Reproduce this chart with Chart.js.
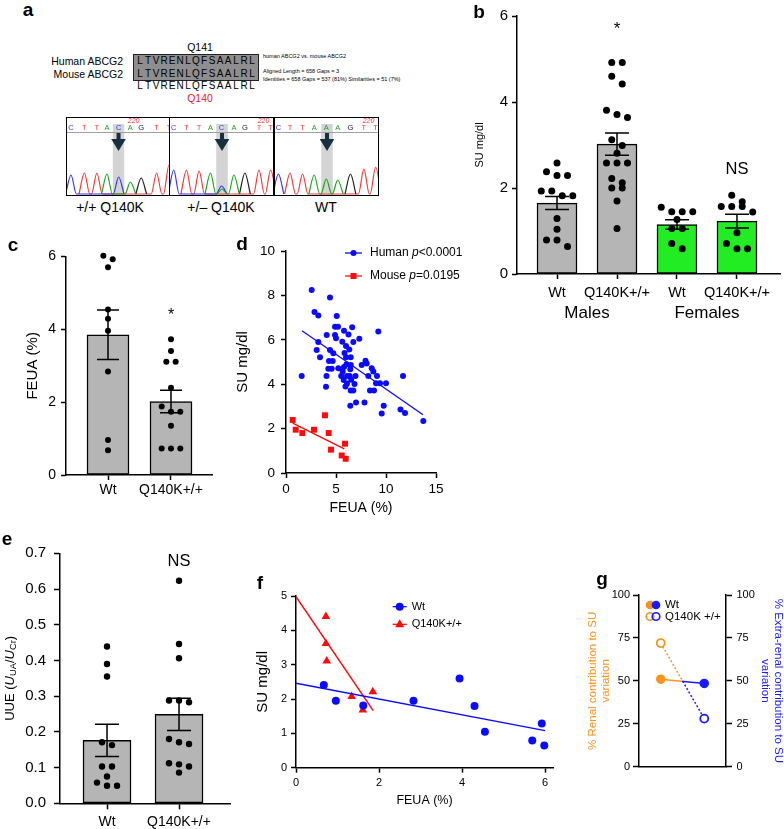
<!DOCTYPE html>
<html>
<head>
<meta charset="utf-8">
<script src="https://cdn.jsdelivr.net/npm/chart.js@4.4.1/dist/chart.umd.min.js"></script>
<style>
  html, body { margin: 0; padding: 0; background: #fff; }
  body { position: relative; width: 784px; height: 829px; overflow: hidden; font-family: "Liberation Sans", Arial, Helvetica, sans-serif; color: #000; }
  canvas { position: absolute; }
  .t { position: absolute; white-space: nowrap; line-height: 1; }
  .c { transform: translate(-50%, -50%); }
  .r { transform: translate(-100%, -50%); }
  .l { transform: translate(0, -50%); }
  .lbl { font-weight: bold; font-size: 19px; }
  .seq { position: absolute; display: flex; width: 120px; font-size: 10px; line-height: 1; transform: translateY(-50%); }
  .seq span { flex: 1; text-align: center; }
</style>
</head>
<body>
<!-- panel a : alignment -->
<div class="t c" style="left:200px;top:47px;font-size:10.5px">Q141</div>
<div class="t r" style="left:123px;top:61px;font-size:10.5px">Human ABCG2</div>
<div class="t r" style="left:123px;top:73.5px;font-size:10.5px">Mouse ABCG2</div>
<div style="position:absolute;left:133px;top:54px;width:126px;height:27px;box-sizing:border-box;background:#8e8e8e;border:1.5px solid #222"></div>
<div class="seq" id="seq1" style="left:136px;top:61px"></div>
<div class="seq" id="seq2" style="left:136px;top:73.5px"></div>
<div class="seq" id="seq3" style="left:136px;top:86px"></div>
<div class="t c" style="left:200px;top:98px;font-size:10.5px;color:#ee1c24">Q140</div>
<div class="t l" style="left:263px;top:57px;font-size:5.5px">human ABCG2 vs. mouse ABCG2</div>
<div class="t l" style="left:263px;top:72px;font-size:5.5px">Aligned Length = 658 Gaps = 3</div>
<div class="t l" style="left:263px;top:80px;font-size:5.5px">Identities = 658 Gaps = 537 (81%) Similarities = 51 (7%)</div>
<div class="t c" style="left:110px;top:207px;font-size:14px">+/+ Q140K</div>
<div class="t c" style="left:221px;top:207px;font-size:14px">+/– Q140K</div>
<div class="t c" style="left:326px;top:207px;font-size:14px">WT</div>

<canvas id="chr1" width="104" height="79" style="left:66px;top:117px"></canvas>
<canvas id="chr2" width="105" height="79" style="left:169px;top:117px"></canvas>
<canvas id="chr3" width="105" height="79" style="left:274px;top:117px"></canvas>

<canvas id="pb" width="344" height="330" style="left:440px;top:0"></canvas>
<canvas id="pc" width="225" height="275" style="left:0;top:240px"></canvas>
<canvas id="pd" width="240" height="290" style="left:228px;top:235px"></canvas>
<canvas id="pe" width="240" height="294" style="left:0;top:535px"></canvas>
<canvas id="pf" width="325" height="240" style="left:240px;top:580px"></canvas>
<canvas id="pg" width="204" height="200" style="left:580px;top:580px"></canvas>

<div class="t c lbl" style="left:28px;top:9px">a</div>
<div class="t c lbl" style="left:479px;top:11px">b</div>
<div class="t c lbl" style="left:13px;top:244px">c</div>
<div class="t c lbl" style="left:242px;top:243px">d</div>
<div class="t c lbl" style="left:7px;top:538px">e</div>
<div class="t c lbl" style="left:260px;top:582px">f</div>
<div class="t c lbl" style="left:602px;top:578px">g</div>

<script>
// ---------- data ----------
// a: alignment + chromatograms
const alignSeq = 'LTVRENLQFSAALRL';
const seqCalls = ['CTTACAGTT', 'CTTACAGTT', 'CTTAAAGTT'];
const peakPos = [
  [4.8, 17.7, 29.7, 39.4, 50.6, 61.9, 72.3, 87.1, 99.0],
  [4.5, 16.6, 28.7, 39.5, 50.0, 61.8, 72.3, 85.7, 96.8],
  [4.2, 15.3, 27.2, 38.3, 49.8, 60.7, 72.8, 85.6, 96.8]
];
const peakHeight = [
  [19, 21, 21, 20, 17, 12, 16, 21, 29],
  [24, 24, 23, 21, 8, 19, 21, 24, 24],
  [20, 21, 20, 19, 15, 14, 20, 25, 27]
];
const minorPeaks = [[], [['A', 50.5, 5]], []];
const numLabelPos = [65, 90, 90];
const hlBand = [45, 56];

// b: serum urate by sex
const bLabels = ['Wt', 'Q140K+/+', 'Wt', 'Q140K+/+'];
const bSexes = ['Males', 'Females'];
const bMaleWt = [2.58, 2.38, 2.29, 2.29, 1.93, 1.93, 1.82, 1.82, 1.29, 1.04, 0.79, 0.79, 0.64];
const bMaleQ = [4.92, 4.92, 4.60, 4.42, 3.81, 3.71, 3.64, 3.12, 2.99, 2.81, 2.58, 2.58, 2.58, 2.22, 2.12, 2.00, 2.00, 1.70, 1.06];
const bFemWt = [1.55, 1.45, 1.45, 1.45, 1.27, 1.06, 1.06, 0.71, 0.59];
const bFemQ = [1.83, 1.68, 1.57, 1.57, 1.57, 1.44, 0.96, 0.71, 0.59, 0.59];
const bMeans = [1.65, 3.02, 1.15, 1.23];
const bSem = [0.15, 0.26, 0.11, 0.16];
const bTicks = [0, 2, 4, 6];

// c: FEUA
const cLabels = ['Wt', 'Q140K+/+'];
const cWt = [6.02, 5.93, 5.71, 4.55, 4.29, 3.96, 2.84, 0.96, 0.68];
const cQ = [3.73, 3.41, 3.11, 3.11, 2.40, 1.88, 1.74, 1.74, 1.35, 0.73, 0.73, 0.73];
const cMeans = [3.85, 2.02];
const cSem = [0.68, 0.31];
const cTicks = [0, 2, 4, 6];

// d: SU vs FEUA, human and mouse
const dSeries = ['Human', 'Mouse'];
const dPvals = ['<0.0001', '=0.0195'];
const dHumanX = [2.57, 4.40, 2.85, 3.23, 5.07, 1.57, 4.07, 3.23, 3.07, 3.40, 4.90, 5.20, 4.90, 5.00, 5.80, 6.25, 6.62, 6.73, 7.33, 5.63,
  6.00, 6.33, 5.85, 4.40, 4.73, 6.47, 6.00, 4.30, 4.67, 4.23, 4.57, 5.23, 4.05, 4.00, 5.52, 5.67, 5.80, 6.05, 6.10, 5.77,
  6.10, 6.48, 6.43, 6.37, 6.52, 6.95, 6.85, 5.95, 6.47, 6.73, 6.43, 7.00, 7.85, 7.57, 7.95, 8.07, 8.23, 8.57, 8.73, 9.10,
  9.00, 8.40, 8.80, 9.40, 10.0, 9.23, 9.57, 9.77, 11.45, 11.70, 11.90, 13.73];
const dHumanY = [8.24, 7.91, 7.25, 7.09, 7.07, 4.37, 6.22, 5.90, 5.54, 5.21, 6.59, 6.59, 6.22, 6.07, 6.41, 6.24, 6.56, 5.90, 6.05, 5.91,
  5.72, 5.56, 5.41, 5.54, 5.39, 5.21, 5.21, 5.04, 5.04, 4.70, 4.70, 4.72, 4.37, 3.88, 4.37, 4.57, 4.78, 4.90, 4.37, 4.19,
  4.03, 4.87, 4.67, 4.37, 4.20, 4.37, 4.01, 3.90, 3.72, 3.72, 3.03, 3.18, 3.18, 4.87, 5.06, 4.93, 4.37, 4.72, 4.57, 4.37,
  4.04, 3.72, 3.72, 4.04, 4.04, 6.37, 2.68, 3.03, 2.86, 4.37, 2.70, 2.34];
const dMouseX = [0.67, 0.97, 1.63, 2.80, 3.90, 4.27, 4.50, 5.57, 5.90, 5.97];
const dMouseY = [2.39, 1.95, 1.80, 1.95, 2.60, 1.80, 1.05, 0.79, 1.32, 0.64];
const dHumanFitX = [1.6, 13.7], dHumanFitY = [6.41, 2.62];
const dMouseFitX = [0.67, 5.83], dMouseFitY = [2.25, 1.09];
const dTicksX = [0, 5, 10, 15];
const dTicksY = [0, 2, 4, 6, 8, 10];

// e: urinary urate excretion
const eLabels = ['Wt', 'Q140K+/+'];
const eWt = [0.439, 0.390, 0.355, 0.171, 0.163, 0.103, 0.103, 0.075, 0.058, 0.049, 0.049];
const eQ = [0.623, 0.446, 0.406, 0.288, 0.288, 0.283, 0.180, 0.171, 0.166, 0.112, 0.109, 0.103, 0.086];
const eMeans = [0.176, 0.249];
const eSem = [0.045, 0.045];
const eTicks = [0, 0.1, 0.2, 0.3, 0.4, 0.5, 0.6, 0.7];

// f: SU vs FEUA in mice
const fSeries = ['Wt', 'Q140K+/+'];
const fWtX = [0.67, 0.96, 1.62, 2.83, 3.94, 4.30, 4.55, 5.69, 5.92, 5.98];
const fWtY = [2.41, 1.95, 1.81, 1.95, 2.60, 1.80, 1.05, 0.79, 1.29, 0.65];
const fQX = [0.72, 0.72, 0.74, 1.34, 1.61, 1.85];
const fQY = [4.40, 3.62, 3.11, 2.07, 1.68, 2.21];
const fWtFitX = [0, 6.0], fWtFitY = [2.46, 1.08];
const fQFitX = [0, 1.86], fQFitY = [4.98, 1.66];
const fTicksX = [0, 2, 4, 6];
const fTicksY = [0, 1, 2, 3, 4, 5];

// g: renal vs extra-renal contribution
const gCats = ['Renal', 'Extra-renal'];
const gSeries = ['Wt', 'Q140K +/+'];
const gWt = [51, 48.5];
const gQ = [72, 28];
const gTicks = [0, 25, 50, 75, 100];

// ---------- setup ----------
const FONT = '"Liberation Sans", Arial, Helvetica, sans-serif';
Chart.defaults.font.family = FONT;
Chart.defaults.color = '#000';
Chart.defaults.animation = false;
Chart.defaults.responsive = false;
Chart.defaults.events = [];
Chart.defaults.plugins.legend.display = false;
Chart.defaults.plugins.tooltip.enabled = false;

const BLUE = '#0a0aff', RED = '#ff0a0a', ORANGE = '#f7931e', GBLUE = '#1a1aff';
const baseColor = { A: '#1aa81a', C: '#3535f5', G: '#202020', T: '#f53a3a' };
const zip = (xs, ys) => xs.map((x, i) => ({ x, y: ys[i] }));

['seq1', 'seq2', 'seq3'].forEach(id => {
  document.getElementById(id).innerHTML = alignSeq.split('').map(ch => '<span>' + ch + '</span>').join('');
});

// simple beeswarm: near-equal values share a row, centred on the category
function swarm(vals, center, step, thr) {
  const rows = [];
  [...vals].sort((a, b) => b - a).forEach(v => {
    const r = rows[rows.length - 1];
    if (r && r[0] - v < thr) r.push(v); else rows.push([v]);
  });
  const out = [];
  rows.forEach(r => r.forEach((v, k) => out.push({ x: center + (k - (r.length - 1) / 2) * step, y: v })));
  return out;
}

function scaleOpts(o) {
  return {
    type: o.type || 'linear',
    position: o.position,
    min: o.min, max: o.max,
    bounds: 'data',
    offset: !!o.offset,
    grid: { display: true, drawOnChartArea: false, drawTicks: !!o.tl, tickLength: o.tl || 0, tickColor: '#000', tickWidth: 1.5, offset: false },
    border: { display: true, color: '#000', width: 1.5 },
    afterFit(s) { if (s.isHorizontal()) s.height = o.size; else s.width = o.size; },
    afterBuildTicks: o.ticks ? (s => { s.ticks = o.ticks.map(v => ({ value: v })); }) : undefined,
    ticks: { display: !!o.fs, font: { size: o.fs || 10 }, padding: o.pad || 0, autoSkip: false, maxRotation: 0, callback: o.cb },
    title: { display: !!o.title, text: o.title || '', color: o.tcolor || '#000', font: { size: o.tfs || 12, lineHeight: o.tlh || 1.2 }, padding: o.tpad || 0 }
  };
}

function marker(ctx, style, x, y, r, fill, stroke) {
  ctx.beginPath();
  if (style === 'rect') ctx.rect(x - r, y - r, 2 * r, 2 * r);
  else if (style === 'triangle') { ctx.moveTo(x, y - r * 1.15); ctx.lineTo(x + r, y + r * 0.65); ctx.lineTo(x - r, y + r * 0.65); ctx.closePath(); }
  else ctx.arc(x, y, r, 0, Math.PI * 2);
  if (fill) { ctx.fillStyle = fill; ctx.fill(); }
  if (stroke) { ctx.strokeStyle = stroke; ctx.lineWidth = 1.6; ctx.stroke(); }
}

function drawParts(ctx, parts, x, y, size) {
  ctx.textAlign = 'left'; ctx.textBaseline = 'middle';
  parts.forEach(p => {
    ctx.font = (p[1] ? 'italic ' : '') + size + 'px ' + FONT;
    ctx.fillText(p[0], x, y);
    x += ctx.measureText(p[0]).width;
  });
}

function errBars(means, sems, cap) {
  return {
    id: 'errBars',
    afterDatasetDraw(chart, args) {
      if (args.meta.type !== 'bar') return;
      const { ctx, scales: { x, y } } = chart;
      ctx.save();
      ctx.strokeStyle = '#000'; ctx.lineWidth = 1.5;
      means.forEach((m, i) => {
        const px = x.getPixelForValue(i), hi = y.getPixelForValue(m + sems[i]), lo = y.getPixelForValue(m - sems[i]);
        ctx.beginPath();
        ctx.moveTo(px, hi); ctx.lineTo(px, lo);
        ctx.moveTo(px - cap / 2, hi); ctx.lineTo(px + cap / 2, hi);
        ctx.moveTo(px - cap / 2, lo); ctx.lineTo(px + cap / 2, lo);
        ctx.stroke();
      });
      ctx.restore();
    }
  };
}

function notes(items) {
  return {
    id: 'notes',
    afterDraw(chart) {
      const { ctx, scales: { x, y } } = chart;
      ctx.save();
      ctx.fillStyle = '#000'; ctx.textAlign = 'center'; ctx.textBaseline = 'middle';
      items.forEach(n => {
        ctx.font = n.size + 'px ' + FONT;
        ctx.fillText(n.text, x.getPixelForValue(n.x), n.py !== undefined ? n.py : y.getPixelForValue(n.y));
      });
      ctx.restore();
    }
  };
}

function lineLegend(rows, geo) {
  return {
    id: 'lineLegend',
    afterDraw(chart) {
      const ctx = chart.ctx;
      ctx.save();
      rows.forEach((r, i) => {
        const y = geo.y0 + i * geo.dy;
        ctx.strokeStyle = r.color; ctx.lineWidth = 1.3;
        ctx.beginPath(); ctx.moveTo(geo.x0, y); ctx.lineTo(geo.x1, y); ctx.stroke();
        marker(ctx, r.style, (geo.x0 + geo.x1) / 2, y, r.r, r.color);
        ctx.fillStyle = '#000';
        drawParts(ctx, r.parts, geo.tx, y, geo.fs);
      });
      ctx.restore();
    }
  };
}

// ---------- a: chromatograms ----------
function chromoDeco(k) {
  return {
    id: 'chromoDeco',
    beforeDatasetsDraw(chart) {
      const { ctx, scales: { x } } = chart;
      const x0 = x.getPixelForValue(hlBand[0]), x1 = x.getPixelForValue(hlBand[1]);
      ctx.save();
      ctx.fillStyle = '#d4d4d4';
      ctx.fillRect(x0, 7, x1 - x0, chart.height - 8);
      ctx.restore();
    },
    afterDraw(chart) {
      const { ctx, scales: { x } } = chart;
      const w = chart.width, h = chart.height;
      ctx.save();
      ctx.strokeStyle = '#a0a0a0'; ctx.lineWidth = 1;
      ctx.beginPath(); ctx.moveTo(0, 15.5); ctx.lineTo(w, 15.5); ctx.stroke();
      ctx.textAlign = 'center'; ctx.textBaseline = 'middle';
      ctx.font = '7.5px ' + FONT;
      seqCalls[k].split('').forEach((b, i) => {
        ctx.fillStyle = baseColor[b];
        ctx.fillText(b, x.getPixelForValue(peakPos[k][i]), 11.3);
      });
      ctx.fillStyle = '#f03030'; ctx.font = 'italic 7px ' + FONT;
      ctx.fillText('220', x.getPixelForValue(numLabelPos[k]), 4.5);
      const c = x.getPixelForValue((hlBand[0] + hlBand[1]) / 2);
      ctx.fillStyle = '#16303f';
      ctx.fillRect(c - 2, 16, 4, 7);
      ctx.beginPath(); ctx.moveTo(c - 7.3, 22); ctx.lineTo(c + 7.3, 22); ctx.lineTo(c, 34); ctx.closePath(); ctx.fill();
      ctx.strokeStyle = '#000'; ctx.lineWidth = 1;
      ctx.strokeRect(0.5, 0.5, w - 1, h - 1);
      ctx.restore();
    }
  };
}

function chromo(id, k) {
  const peaks = seqCalls[k].split('').map((b, i) => [b, peakPos[k][i], peakHeight[k][i]]).concat(minorPeaks[k]);
  const datasets = ['A', 'C', 'G', 'T'].map(b => {
    const pts = [];
    peaks.filter(p => p[0] === b).sort((p, q) => p[1] - q[1]).forEach(p => {
      pts.push({ x: p[1] - 5.2, y: 0 }, { x: p[1], y: p[2] }, { x: p[1] + 5.2, y: 0 });
    });
    return { data: pts, borderColor: baseColor[b], borderWidth: 1.2, pointRadius: 0, cubicInterpolationMode: 'monotone' };
  });
  new Chart(document.getElementById(id), {
    type: 'line',
    data: { datasets },
    options: {
      layout: { padding: { top: 16 } },
      scales: { x: { type: 'linear', display: false, min: 0, max: 100 }, y: { display: false, min: -2, max: 61 } }
    },
    plugins: [chromoDeco(k)]
  });
}
chromo('chr1', 0);
chromo('chr2', 1);
chromo('chr3', 2);

// ---------- bar + dot panels (b, c, e) ----------
function barDot(id, o) {
  const dots = o.groups.flatMap((g, i) => swarm(g, i, o.step, o.thr));
  new Chart(document.getElementById(id), {
    type: 'bar',
    data: {
      datasets: [
        { type: 'scatter', data: dots, pointRadius: o.r, pointBackgroundColor: '#000', pointBorderWidth: 0, order: 0, clip: false },
        { type: 'bar', data: o.means.map((m, i) => ({ x: i, y: m })), backgroundColor: o.fills, borderColor: '#000',
          borderWidth: 1.5, borderSkipped: false, barThickness: o.barW, order: 1 }
      ]
    },
    options: {
      layout: { padding: o.padding },
      scales: { x: scaleOpts(o.x), y: scaleOpts(o.y) }
    },
    plugins: [errBars(o.means, o.sems, o.cap), notes(o.notes)].concat(o.extra || [])
  });
}

barDot('pb', {
  groups: [bMaleWt, bMaleQ, bFemWt, bFemQ], means: bMeans, sems: bSem,
  fills: ['#b5b5b5', '#b5b5b5', '#22ec22', '#22ec22'], barW: 40, cap: 24, r: 3.5, step: 0.175, thr: 0.19,
  padding: { top: 16, right: 4 },
  x: { min: -0.667, max: 3.717, ticks: bLabels.map((_, i) => i), cb: v => bLabels[v], size: 56, tl: 5, pad: 5.3, fs: 14.5 },
  y: { min: 0, max: 6, ticks: bTicks, size: 77, tl: 5, pad: 4, fs: 15, title: 'SU mg/dl', tfs: 11, tpad: 33.4 },
  notes: [
    { x: 1, y: 5.68, text: '*', size: 17 },
    { x: 3, y: 2.42, text: 'NS', size: 16.5 },
    { x: 0.5, py: 313, text: bSexes[0], size: 17 },
    { x: 2.5, py: 313, text: bSexes[1], size: 17 }
  ]
});

barDot('pc', {
  groups: [cWt, cQ], means: cMeans, sems: cSem,
  fills: ['#b5b5b5', '#b5b5b5'], barW: 42, cap: 22, r: 3, step: 0.148, thr: 0.15,
  padding: { top: 16.6, right: 13 },
  x: { min: -0.667, max: 1.651, ticks: [0, 1], cb: v => cLabels[v], size: 40, tl: 5, pad: 1.6, fs: 14 },
  y: { min: 0, max: 6, ticks: cTicks, size: 66, tl: 5, pad: 5, fs: 14, title: 'FEUA (%)', tfs: 15, tpad: 24 },
  notes: [{ x: 1, y: 4.38, text: '*', size: 16 }]
});

const eTitle = {
  id: 'eTitle',
  afterDraw(chart) {
    const { ctx, chartArea: a } = chart;
    const parts = [['UUE (', 0, 0], ['U', 1, 0], ['UA', 0, 1], ['/', 0, 0], ['U', 1, 0], ['Cr', 0, 1], [')', 0, 0]];
    const size = 13;
    const f = p => (p[1] ? 'italic ' : '') + (p[2] ? size * 0.72 : size) + 'px ' + FONT;
    ctx.save();
    ctx.translate(10, (a.top + a.bottom) / 2);
    ctx.rotate(-Math.PI / 2);
    let tw = 0;
    parts.forEach(p => { ctx.font = f(p); tw += ctx.measureText(p[0]).width; });
    let cx = -tw / 2;
    ctx.textBaseline = 'middle'; ctx.textAlign = 'left'; ctx.fillStyle = '#000';
    parts.forEach(p => { ctx.font = f(p); ctx.fillText(p[0], cx, p[2] ? size * 0.3 : 0); cx += ctx.measureText(p[0]).width; });
    ctx.restore();
  }
};

barDot('pe', {
  groups: [eWt, eQ], means: eMeans, sems: eSem,
  fills: ['#b5b5b5', '#b5b5b5'], barW: 48, cap: 24, r: 3.2, step: 0.139, thr: 0.016,
  padding: { top: 18.3, right: 10 },
  x: { min: -0.653, max: 1.708, ticks: [0, 1], cb: v => eLabels[v], size: 25.7, tl: 6, pad: 4.3, fs: 14 },
  y: { min: 0, max: 0.7, ticks: eTicks, cb: v => v.toFixed(1), size: 60, tl: 6, pad: 8, fs: 15 },
  notes: [{ x: 1, y: 0.677, text: 'NS', size: 16.5 }],
  extra: [eTitle]
});

// ---------- d ----------
new Chart(document.getElementById('pd'), {
  type: 'scatter',
  data: {
    datasets: [
      { data: zip(dHumanFitX, dHumanFitY), showLine: true, pointRadius: 0, borderColor: BLUE, borderWidth: 1.3 },
      { data: zip(dMouseFitX, dMouseFitY), showLine: true, pointRadius: 0, borderColor: RED, borderWidth: 1.3 },
      { data: zip(dHumanX, dHumanY), pointRadius: 3, pointBackgroundColor: BLUE, pointBorderWidth: 0 },
      { data: zip(dMouseX, dMouseY), pointStyle: 'rect', pointRadius: 4.2, pointBackgroundColor: RED, pointBorderWidth: 0 }
    ]
  },
  options: {
    layout: { padding: { top: 16, right: 32 } },
    scales: {
      x: scaleOpts({ min: 0, max: 15, ticks: dTicksX, size: 52, tl: 5, pad: 3, fs: 13.5, title: 'FEUA (%)', tfs: 14, tpad: 8.6 }),
      y: scaleOpts({ min: 0, max: 10, ticks: dTicksY, size: 58, tl: 5, pad: 6, fs: 13.5, title: 'SU mg/dl', tfs: 15, tpad: 6.3 })
    }
  },
  plugins: [lineLegend([
    { color: BLUE, style: 'circle', r: 3, parts: [[dSeries[0] + ' ', 0], ['p', 1], [dPvals[0], 0]] },
    { color: RED, style: 'rect', r: 3, parts: [[dSeries[1] + ' ', 0], ['p', 1], [dPvals[1], 0]] }
  ], { y0: 18, dy: 23, x0: 117, x1: 134, tx: 142, fs: 12 })]
});

// ---------- f ----------
new Chart(document.getElementById('pf'), {
  type: 'scatter',
  data: {
    datasets: [
      { data: zip(fWtFitX, fWtFitY), showLine: true, pointRadius: 0, borderColor: BLUE, borderWidth: 1.5 },
      { data: zip(fQFitX, fQFitY), showLine: true, pointRadius: 0, borderColor: RED, borderWidth: 1.5 },
      { data: zip(fWtX, fWtY), pointRadius: 4, pointBackgroundColor: BLUE, pointBorderWidth: 0 },
      { data: zip(fQX, fQY), pointStyle: 'triangle', pointRadius: 5, pointBackgroundColor: RED, pointBorderWidth: 0 }
    ]
  },
  options: {
    layout: { padding: { top: 16, right: 12 } },
    scales: {
      x: scaleOpts({ min: 0, max: 6.19, ticks: fTicksX, size: 52.3, tl: 5, pad: 3.4, fs: 11, title: 'FEUA (%)', tfs: 12.5, tpad: 11.5 }),
      y: scaleOpts({ min: 0, max: 5, ticks: fTicksY, size: 56, tl: 5, pad: 4, fs: 11, title: 'SU mg/dl', tfs: 15, tpad: 14.3 })
    }
  },
  plugins: [lineLegend([
    { color: BLUE, style: 'circle', r: 4, parts: [[fSeries[0], 0]] },
    { color: RED, style: 'triangle', r: 4.5, parts: [[fSeries[1], 0]] }
  ], { y0: 26.7, dy: 17.6, x0: 152.7, x1: 166.7, tx: 171.7, fs: 11 })]
});

// ---------- g ----------
function splitColor(ctx) {
  const c = ctx.chart;
  if (!c.chartArea) return ORANGE;
  const x = c.scales.x;
  const x0 = x.getPixelForValue(0), x1 = x.getPixelForValue(1);
  const g = c.ctx.createLinearGradient(x0, 0, x1, 0);
  g.addColorStop(0, ORANGE); g.addColorStop(0.5, ORANGE);
  g.addColorStop(0.5, GBLUE); g.addColorStop(1, GBLUE);
  return g;
}

const gLegend = {
  id: 'gLegend',
  afterDraw(chart) {
    const ctx = chart.ctx;
    ctx.save();
    marker(ctx, 'circle', 70, 25, 4.3, ORANGE);
    marker(ctx, 'circle', 76, 25, 4.3, GBLUE);
    marker(ctx, 'circle', 70, 36.5, 3.8, null, ORANGE);
    marker(ctx, 'circle', 76, 36.5, 3.8, null, GBLUE);
    ctx.fillStyle = '#000';
    drawParts(ctx, [[gSeries[0], 0]], 85, 25, 11.5);
    drawParts(ctx, [[gSeries[1], 0]], 85, 36.5, 11.5);
    ctx.restore();
  }
};

new Chart(document.getElementById('pg'), {
  type: 'line',
  data: {
    labels: gCats,
    datasets: [
      { data: gWt, borderColor: splitColor, borderWidth: 1.5, pointRadius: 4, pointBackgroundColor: [ORANGE, GBLUE],
        pointBorderColor: [ORANGE, GBLUE], pointBorderWidth: 1.5 },
      { data: gQ, borderColor: splitColor, borderDash: [2, 2], borderWidth: 1.5, pointRadius: 4, pointBackgroundColor: '#fff',
        pointBorderColor: [ORANGE, GBLUE], pointBorderWidth: 1.8 }
    ]
  },
  options: {
    layout: { padding: { top: 15 } },
    scales: {
      x: scaleOpts({ type: 'category', offset: true, size: 13.3 }),
      y: scaleOpts({ min: 0, max: 100, ticks: gTicks, size: 59, tl: 6, pad: 3, fs: 11,
        title: ['% Renal contribution to SU', 'variation'], tcolor: ORANGE, tfs: 11.5, tlh: 1.1, tpad: 6.7 }),
      y2: scaleOpts({ position: 'right', min: 0, max: 100, ticks: gTicks, size: 58, tl: 6, pad: 4.5, fs: 11,
        title: ['% Extra-renal contribution to SU', 'variation'], tcolor: GBLUE, tfs: 11.5, tlh: 1.1, tpad: 0 })
    }
  },
  plugins: [gLegend]
});
</script>
</body>
</html>
